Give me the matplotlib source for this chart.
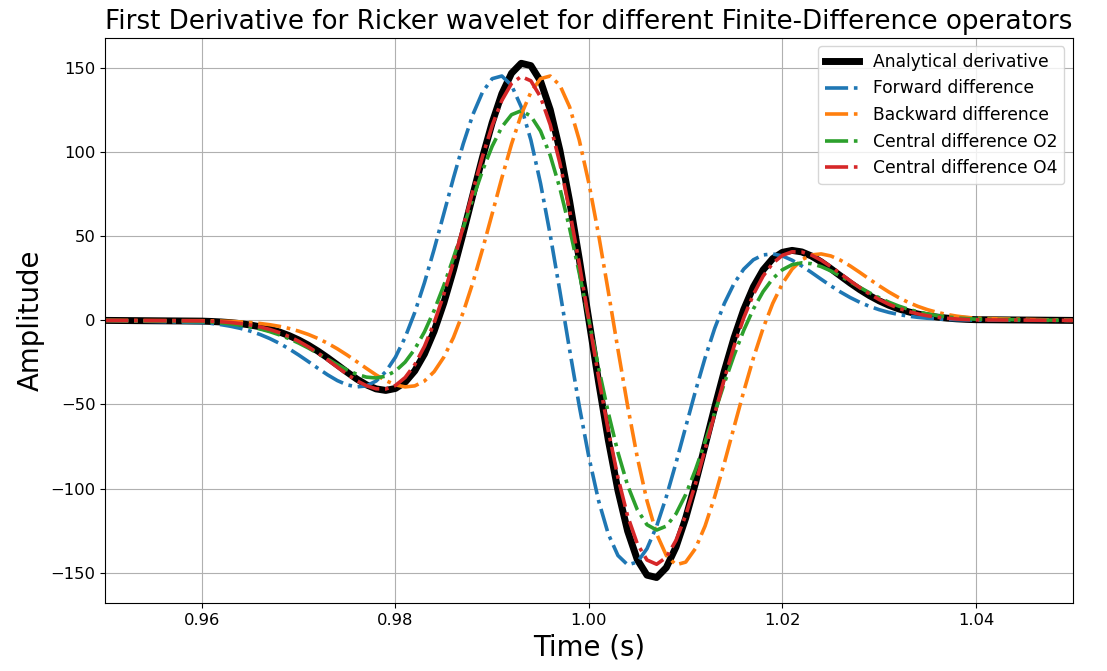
import matplotlib.pyplot as plt
import numpy as np

# time axis (s), 1 ms steps between 0.96 and 1.04, plus the plot edges
t = [0.95] + [round(0.96 + 0.001 * i, 3) for i in range(81)] + [1.05]

analytical = [0.0,
    -0.43, -0.64, -0.94, -1.36, -1.94, -2.73, -3.78, -5.14, -6.87, -9.02,
    -11.64, -14.73, -18.29, -22.24, -26.46, -30.76, -34.83, -38.30, -40.73, -41.64,
    -40.48, -36.76, -30.01, -19.95, -6.44, 10.35, 30.00, 51.74, 74.51, 96.97,
    117.59, 134.78, 147.00, 152.92, 151.52, 142.30, 125.31, 101.15, 71.03, 36.63,
    0.0,
    -36.63, -71.03, -101.15, -125.31, -142.30, -151.52, -152.92, -147.00, -134.78, -117.59,
    -96.97, -74.51, -51.74, -30.00, -10.35, 6.44, 19.95, 30.01, 36.76, 40.48,
    41.64, 40.73, 38.30, 34.83, 30.76, 26.46, 22.24, 18.29, 14.73, 11.64,
    9.02, 6.87, 5.14, 3.78, 2.73, 1.94, 1.36, 0.94, 0.64, 0.43,
    0.0]

forward = [0.0,
    -1.28, -1.82, -2.55, -3.52, -4.77, -6.37, -8.35, -10.76, -13.61, -16.90,
    -20.57, -24.50, -28.53, -32.40, -35.80, -38.33, -39.54, -38.95, -36.07, -30.50,
    -21.91, -10.14, 4.73, 22.40, 42.27, 63.43, 84.74, 104.87, 122.35, 135.76,
    143.77, 145.35, 139.83, 127.03, 107.28, 81.45, 50.88, 17.31, -17.31, -50.88,
    -81.45,
    -107.28, -127.03, -139.83, -145.35, -143.77, -135.76, -122.35, -104.87, -84.74, -63.43,
    -42.27, -22.40, -4.73, 10.14, 21.91, 30.50, 36.07, 38.95, 39.54, 38.33,
    35.80, 32.40, 28.53, 24.50, 20.57, 16.90, 13.61, 10.76, 8.35, 6.37,
    4.77, 3.52, 2.55, 1.82, 1.28, 0.89, 0.61, 0.41, 0.27, 0.18,
    0.0]

backward = [0.0,
    -0.18, -0.27, -0.41, -0.61, -0.89, -1.28, -1.82, -2.55, -3.52, -4.77,
    -6.37, -8.35, -10.76, -13.61, -16.90, -20.57, -24.50, -28.53, -32.40, -35.80,
    -38.33, -39.54, -38.95, -36.07, -30.50, -21.91, -10.14, 4.73, 22.40, 42.27,
    63.43, 84.74, 104.87, 122.35, 135.76, 143.77, 145.35, 139.83, 127.03, 107.28,
    81.45,
    50.88, 17.31, -17.31, -50.88, -81.45, -107.28, -127.03, -139.83, -145.35, -143.77,
    -135.76, -122.35, -104.87, -84.74, -63.43, -42.27, -22.40, -4.73, 10.14, 21.91,
    30.50, 36.07, 38.95, 39.54, 38.33, 35.80, 32.40, 28.53, 24.50, 20.57,
    16.90, 13.61, 10.76, 8.35, 6.37, 4.77, 3.52, 2.55, 1.82, 1.28,
    0.0]

central2 = [0.0,
    -0.73, -1.05, -1.48, -2.07, -2.83, -3.83, -5.09, -6.66, -8.57, -10.84,
    -13.47, -16.43, -19.65, -23.01, -26.35, -29.45, -32.02, -33.74, -34.24, -33.15,
    -30.12, -24.84, -17.11, -6.84, 5.89, 20.76, 37.30, 54.80, 72.38, 89.02,
    103.60, 115.05, 122.35, 124.69, 121.52, 112.61, 98.12, 78.57, 54.86, 28.20,
    0.0,
    -28.20, -54.86, -78.57, -98.12, -112.61, -121.52, -124.69, -122.35, -115.05, -103.60,
    -89.02, -72.38, -54.80, -37.30, -20.76, -5.89, 6.84, 17.11, 24.84, 30.12,
    33.15, 34.24, 33.74, 32.02, 29.45, 26.35, 23.01, 19.65, 16.43, 13.47,
    10.84, 8.57, 6.66, 5.09, 3.83, 2.83, 2.07, 1.48, 1.05, 0.73,
    0.0]

central4 = [0.0,
    -0.32, -0.53, -0.82, -1.28, -1.88, -2.74, -3.88, -5.36, -7.25, -9.59,
    -12.41, -15.73, -19.47, -23.55, -27.80, -32.01, -35.81, -38.86, -40.68, -40.79,
    -38.71, -34.00, -26.32, -15.48, -1.46, 15.43, 34.70, 55.53, 76.87, 97.46,
    115.90, 130.83, 140.90, 145.04, 142.49, 132.88, 116.36, 93.51, 65.46, 33.70,
    0.0,
    -33.70, -65.46, -93.51, -116.36, -132.88, -142.49, -145.04, -140.90, -130.83, -115.90,
    -97.46, -76.87, -55.53, -34.70, -15.43, 1.46, 15.48, 26.32, 34.00, 38.71,
    40.79, 40.68, 38.86, 35.81, 32.01, 27.80, 23.55, 19.47, 15.73, 12.41,
    9.59, 7.25, 5.36, 3.88, 2.74, 1.88, 1.28, 0.82, 0.53, 0.32,
    0.0]

'''PLOT'''
plt.figure(figsize=(11.07, 6.71), dpi=100)
plt.plot(t, analytical, color='black', linewidth=5, label='Analytical derivative')
plt.plot(t, forward, '-.', color='tab:blue', linewidth=2.6, label='Forward difference')
plt.plot(t, backward, '-.', color='tab:orange', linewidth=2.6, label='Backward difference')
plt.plot(t, central2, '-.', color='tab:green', linewidth=2.6, label='Central difference O2')
plt.plot(t, central4, '-.', color='tab:red', linewidth=2.6, label='Central difference O4')
plt.title('First Derivative for Ricker wavelet for different Finite-Difference operators', fontsize=18.8)
plt.xlabel('Time (s)', fontsize=19.8)
plt.ylabel('Amplitude', fontsize=19.8)
plt.xlim(0.95, 1.05)
plt.tick_params(labelsize=11.8)
plt.legend(loc='upper right', fontsize=12.3)
plt.grid()
plt.subplots_adjust(left=0.095, right=0.969, top=0.944, bottom=0.101)
plt.savefig('out.png')
